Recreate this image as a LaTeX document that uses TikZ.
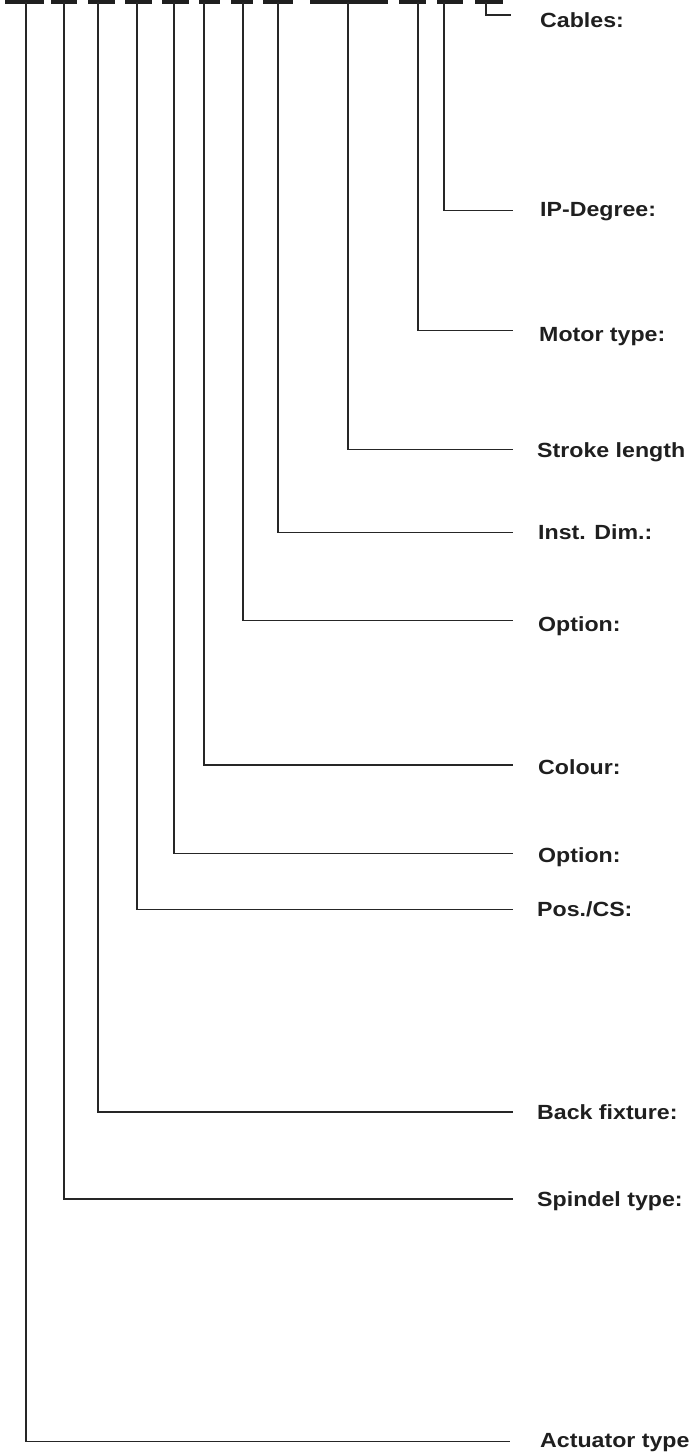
\documentclass[tikz,border=0pt]{standalone}
\usepackage{fontspec}
\newfontfamily\labfont{Liberation Sans}[FakeStretch=1.13]
\begin{document}
\begin{tikzpicture}[x=1pt,y=-1pt,
  lbl/.style={anchor=base west,inner sep=0pt,font=\labfont\bfseries\fontsize{20.5}{24}\selectfont,text=black!88},
  conn/.style={draw=black!85,line width=1.1pt},
  dashbar/.style={fill=black!88,draw=none}]
\useasboundingbox (0,0) rectangle (691,1454);
% top dashes
\foreach \a/\b in {5/44,51/77,88/115,125/152,162/189,199/220,231/253,263/293,310/388,399/426,437/463,475/503}
  \fill[dashbar] (\a,0) rectangle (\b,3.6);
% coordinates at the tops of the connectors
\foreach \n/\x in {act/26,spi/64,bck/98,pos/137,opa/174,col/204,opb/243,ins/278,str/348,mot/418,ipd/444,cab/486}
  \coordinate (t\n) at (\x,2);
% labels
\node[lbl] (Lcab) at (540,27) {Cables:};
\node[lbl] (Lipd) at (540,216.5) {IP-Degree:};
\node[lbl] (Lmot) at (539,341) {Motor type:};
\node[lbl] (Lstr) at (537,457) {Stroke length};
\node[lbl] (Lins) at (538,539.5) {Inst. Dim.:};
\node[lbl] (Lopb) at (538,631) {Option:};
\node[lbl] (Lcol) at (538,774) {Colour:};
\node[lbl] (Lopa) at (538,862) {Option:};
\node[lbl] (Lpos) at (537,916.5) {Pos./CS:};
\node[lbl] (Lbck) at (537,1119) {Back fixture:};
\node[lbl] (Lspi) at (537,1206) {Spindel type:};
\node[lbl] (Lact) at (540,1447.5) {Actuator type};
% connector ends
\coordinate (ecab) at (511,15);
\coordinate (eipd) at (513,210.7);
\coordinate (emot) at (513,330.7);
\coordinate (estr) at (513,449.3);
\coordinate (eins) at (513,532.3);
\coordinate (eopb) at (513,620.7);
\coordinate (ecol) at (513,765);
\coordinate (eopa) at (513,853.3);
\coordinate (epos) at (513,909.3);
\coordinate (ebck) at (513,1112);
\coordinate (espi) at (513,1199);
\coordinate (eact) at (510,1441.7);
% connectors
\draw[conn] (tcab) |- (ecab);
\draw[conn] (tipd) |- (eipd);
\draw[conn] (tmot) |- (emot);
\draw[conn] (tstr) |- (estr);
\draw[conn] (tins) |- (eins);
\draw[conn] (topb) |- (eopb);
\draw[conn] (tcol) |- (ecol);
\draw[conn] (topa) |- (eopa);
\draw[conn] (tpos) |- (epos);
\draw[conn] (tbck) |- (ebck);
\draw[conn] (tspi) |- (espi);
\draw[conn] (tact) |- (eact);
\end{tikzpicture}
\end{document}
